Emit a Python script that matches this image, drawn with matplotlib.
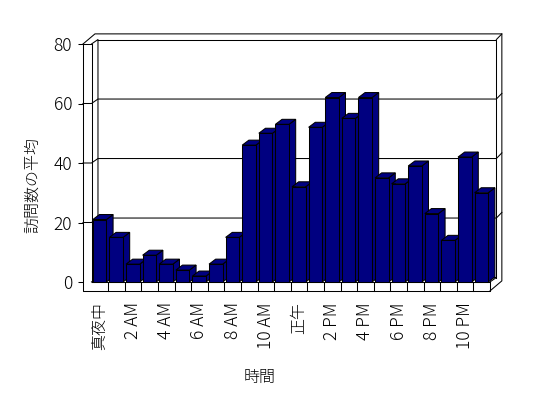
import matplotlib
matplotlib.use("Agg")
import matplotlib.pyplot as plt
from matplotlib.patches import Polygon

plt.rcParams['font.family'] = ['Noto Sans CJK JP', 'DejaVu Sans']
plt.rcParams['font.weight'] = 'light'

# average visits per hour of day
hour_labels = ['真夜中', '', '2 AM', '', '4 AM', '', '6 AM', '', '8 AM', '', '10 AM', '',
               '正午', '', '2 PM', '', '4 PM', '', '6 PM', '', '8 PM', '', '10 PM', '']
visits = [21, 15, 6, 9, 6, 4, 2, 6, 15, 46, 50, 53,
          32, 52, 62, 55, 62, 35, 33, 39, 23, 14, 42, 30]
y_ticks = [0, 20, 40, 60, 80]

NAVY = '#000080'
LW = 0.75

# pixel layout of the 3D box (figure is 548x398 px at 100 dpi)
X0, CW = 91.5, 16.6      # px of category 0 left edge, px per category
Y0, PU = 282.0, 2.975    # px of value 0, px per value unit
n = len(visits)
ymax = y_ticks[-1]

fig = plt.figure(figsize=(5.48, 3.98), dpi=100)
left_px, right_px, top_px, bot_px = 83, 505, 30, 291
ax = fig.add_axes([left_px / 548, (398 - bot_px) / 398,
                   (right_px - left_px) / 548, (bot_px - top_px) / 398])
ax.set_xlim((left_px - X0) / CW, (right_px - X0) / CW)
ax.set_ylim((Y0 - bot_px) / PU, (Y0 - top_px) / PU)
for s in ax.spines.values():
    s.set_visible(False)

xw = ax.get_xlim()[0]         # outer face of left wall
yf = ax.get_ylim()[0]         # bottom of floor slab
dx, dy = 0.39, 1.5            # depth of box (inner)
ox, oy = 0.72, 3.4            # depth incl. wall thickness


def seg(xs, ys, z=1):
    ax.plot(xs, ys, color='black', lw=LW, zorder=z, clip_on=False,
            solid_capstyle='projecting')


# walls and floor
seg([xw, xw, n, n], [ymax, yf, yf, 0])
seg([0, n], [0, 0])
seg([0, 0], [0, ymax])
seg([xw, 0], [ymax, ymax])
seg([0, dx, dx], [ymax, ymax + dy, 0 + dy])
seg([xw, xw + ox, n + ox, n + ox, n], [ymax, ymax + oy, ymax + oy, yf + oy, yf])
seg([dx, n + dx, n + dx], [ymax + dy, ymax + dy, dy])
seg([n + dx, n + ox], [ymax + dy, ymax + oy])
seg([n, n + dx, dx, 0], [0, dy, dy, 0], z=0.5)
for v in y_ticks[1:-1]:
    seg([xw, 0, dx, n + dx, n + ox], [v, v, v + dy, v + dy, v + oy])
for k in range(1, n):
    seg([k, k], [yf, 0])

# bars: front faces through ax.bar, top/side faces from the same values
bx0, bw = 0.08, 0.82
bdx, bdy = 0.40, 1.68
bars = ax.bar([i + bx0 for i in range(n)], visits, width=bw, align='edge',
              color=NAVY, edgecolor='black', linewidth=LW)
for i, (rect, v) in enumerate(zip(bars, visits)):
    z = 3 + i * 0.01
    rect.set_zorder(z + 0.005)
    xl, xr = i + bx0, i + bx0 + bw
    top = Polygon([(xl, v), (xr, v), (xr + bdx, v + bdy), (xl + bdx, v + bdy)],
                  closed=True, facecolor=NAVY, edgecolor='black', lw=LW, zorder=z)
    side = Polygon([(xr, 0), (xr, v), (xr + bdx, v + bdy), (xr + bdx, bdy)],
                   closed=True, facecolor=NAVY, edgecolor='black', lw=LW, zorder=z)
    ax.add_patch(side)
    ax.add_patch(top)

ax.set_yticks(y_ticks)
ax.set_yticklabels([str(t) for t in y_ticks], fontsize=12.5)
ax.tick_params(axis='y', direction='out', length=3.6, width=LW, pad=4.3)
ax.set_xticks([i + 0.5 for i in range(n) if hour_labels[i]])
ax.set_xticklabels([l for l in hour_labels if l], rotation=90)
for lab in ax.get_xticklabels():
    # Latin labels set a bit larger than the kanji ones
    lab.set_fontsize(11.5 if lab.get_text() in ('真夜中', '正午') else 12.5)
ax.tick_params(axis='x', length=0, pad=8)

fig.text(260 / 548, 1 - 377 / 398, '時間', ha='center', va='center', fontsize=11.5)
fig.text(33 / 548, 1 - 185 / 398, '訪問数の平均', ha='center', va='center',
         rotation=90, fontsize=11.5)

fig.savefig('out.png', dpi=100)
